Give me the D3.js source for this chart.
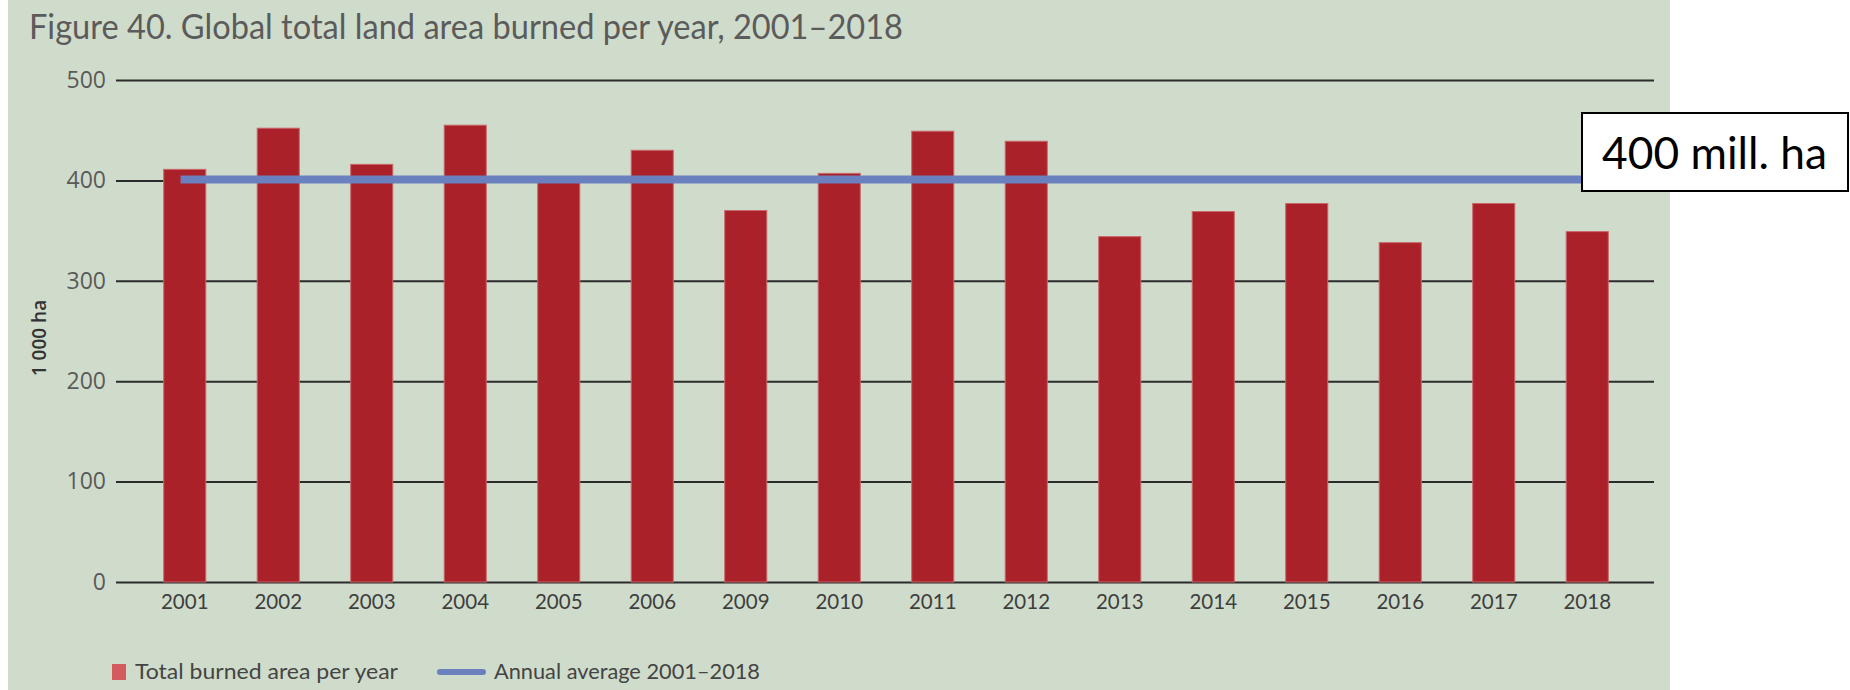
<!DOCTYPE html>
<html>
<head>
<meta charset="utf-8">
<script src="https://cdn.jsdelivr.net/npm/d3@7"></script>
<style>
  body { margin: 0; background: #fff; }
  svg { display: block; }
</style>
</head>
<body>
<svg id="svg" width="1850" height="690"></svg>
<script>
// data (1 000 ha)
const years = ["2001", "2002", "2003", "2004", "2005", "2006", "2009", "2010",
               "2011", "2012", "2013", "2014", "2015", "2016", "2017", "2018"];
const burned = [411, 452, 416, 455, 399, 430, 370, 407, 449, 439, 344, 369, 377, 338, 377, 349];
const annualAverage = 401;
const yTicks = [0, 100, 200, 300, 400, 500];

const titleText = "Figure 40. Global total land area burned per year, 2001\u20132018";
const yLabel = "1 000 ha";
const legendBars = "Total burned area per year";
const legendLine = "Annual average 2001\u20132018";
const calloutText = "400 mill. ha";

let svg = d3.select("#svg");
const width = 1850;
const height = 690;

const data = years.map((y, i) => ({ year: y, value: burned[i] }));

// green panel behind the chart
svg.append("rect")
    .attr("x", 8).attr("y", 0)
    .attr("width", 1662).attr("height", height)
    .attr("fill", "#d0dccb");

let xScale = d3.scaleBand()
    .domain(years)
    .range([138, 1634])
    .paddingInner(0.55)
    .paddingOuter(0.275);

let yScale = d3.scaleLinear()
    .domain([0, 500])
    .range([582, 80]);

// Title
svg.append("text")
    .attr("x", 29)
    .attr("y", 39)
    .attr("textLength", 874)
    .attr("lengthAdjust", "spacingAndGlyphs")
    .style("font-family", "Lato, sans-serif")
    .style("font-size", "34px")
    .style("fill", "#5b5b5b")
    .text(titleText);

// gridlines + y labels
let yAxis = svg.append("g")
    .attr("class", "y-axis")
    .attr("transform", "translate(116,0)")
    .call(d3.axisLeft(yScale).tickValues(yTicks).tickSize(-(1654 - 116)).tickPadding(10));
yAxis.select(".domain").remove();
yAxis.selectAll(".tick line")
    .attr("stroke", "#2b2b2b")
    .attr("stroke-width", 2);
yAxis.selectAll(".tick text")
    .style("font-family", "'Open Sans', sans-serif")
    .style("font-size", "23px")
    .style("fill", "#5a5a5a");

// y title
svg.append("text")
    .attr("transform", "translate(46,338) rotate(-90)")
    .attr("text-anchor", "middle")
    .style("font-family", "'Open Sans', sans-serif")
    .style("font-weight", "600")
    .style("font-size", "19px")
    .style("fill", "#333")
    .text(yLabel);

// Bars
svg.selectAll(".bar")
    .data(data)
    .enter().append("rect")
    .attr("class", "bar")
    .attr("x", d => xScale(d.year))
    .attr("y", d => yScale(d.value))
    .attr("width", xScale.bandwidth())
    .attr("height", d => yScale(0) - yScale(d.value))
    .attr("fill", "#ab2129")
    .attr("stroke", "#c9676b")
    .attr("stroke-width", 1);

// x labels
let xAxis = svg.append("g")
    .attr("class", "x-axis")
    .attr("transform", "translate(0," + yScale(0) + ")")
    .call(d3.axisBottom(xScale).tickSize(0).tickPadding(12));
xAxis.select(".domain").remove();
xAxis.selectAll(".tick text")
    .style("font-family", "Lato, sans-serif")
    .style("font-size", "20.5px")
    .style("fill", "#3e3e3e");

// annual average line
svg.append("line")
    .attr("x1", xScale(years[0]) + xScale.bandwidth() * 0.4)
    .attr("x2", xScale(years[years.length - 1]) + xScale.bandwidth())
    .attr("y1", yScale(annualAverage))
    .attr("y2", yScale(annualAverage))
    .attr("stroke", "#6a80bf")
    .attr("stroke-width", 8);

// callout box
svg.append("rect")
    .attr("x", 1582).attr("y", 113)
    .attr("width", 266).attr("height", 78)
    .attr("fill", "#fff")
    .attr("stroke", "#000")
    .attr("stroke-width", 2);
svg.append("text")
    .attr("x", 1602)
    .attr("y", 169)
    .attr("textLength", 225)
    .attr("lengthAdjust", "spacingAndGlyphs")
    .style("font-family", "Lato, sans-serif")
    .style("font-size", "45px")
    .style("fill", "#000")
    .text(calloutText);

// Legend
let legend = svg.append("g").attr("class", "legend");
legend.append("rect")
    .attr("x", 112).attr("y", 664)
    .attr("width", 14).attr("height", 16)
    .attr("fill", "#d35a5e");
legend.append("text")
    .attr("x", 135).attr("y", 679)
    .attr("textLength", 263)
    .attr("lengthAdjust", "spacingAndGlyphs")
    .style("font-family", "Lato, sans-serif")
    .style("font-size", "21px")
    .style("fill", "#444")
    .text(legendBars);
legend.append("line")
    .attr("x1", 440).attr("x2", 483)
    .attr("y1", 672).attr("y2", 672)
    .attr("stroke", "#6a80bf")
    .attr("stroke-width", 6)
    .attr("stroke-linecap", "round");
legend.append("text")
    .attr("x", 494).attr("y", 679)
    .attr("textLength", 266)
    .attr("lengthAdjust", "spacingAndGlyphs")
    .style("font-family", "Lato, sans-serif")
    .style("font-size", "21px")
    .style("fill", "#444")
    .text(legendLine);
</script>
</body>
</html>
